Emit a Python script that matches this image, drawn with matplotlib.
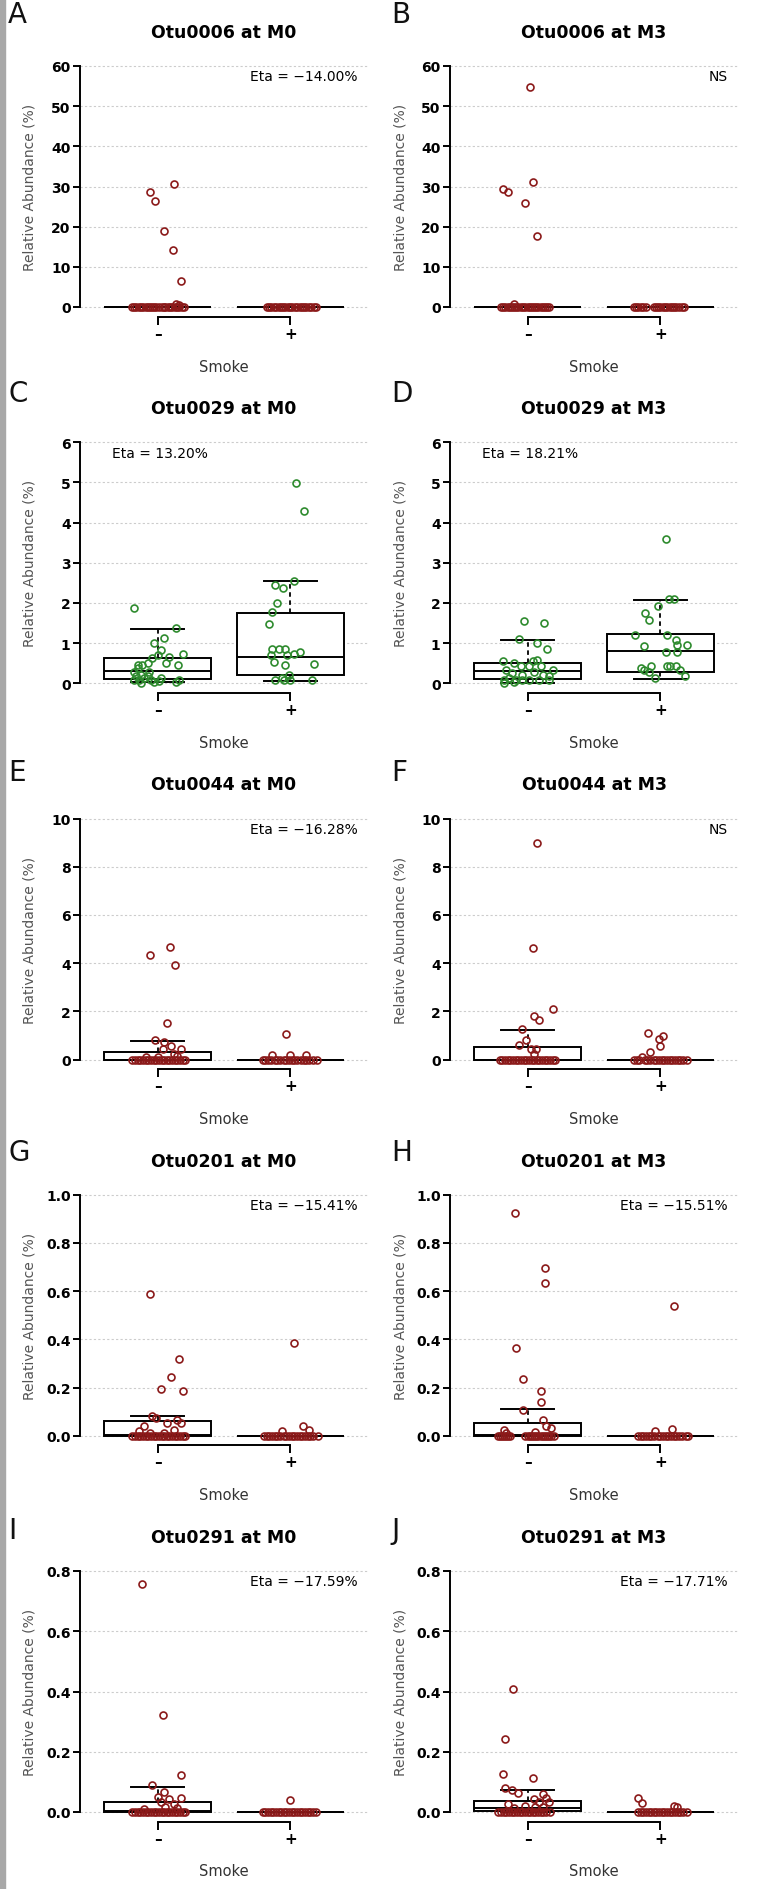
import matplotlib
matplotlib.use('Agg')
from matplotlib import pyplot as plt
from matplotlib.patches import Rectangle

W, H = 766, 1890
RED = '#8b1a1a'
GREEN = '#2e8b2e'
GRID = '#cccccc'

# ---- data: (jitter offset, value) points, dx of points at 0, box stats ----
# box stats are [whislo, q1, median, q3, whishi]

# A: Otu0006 at M0
A_neg = [(-0.06, 28.7), (-0.02, 26.5), (0.125, 30.6), (0.045, 18.8), (0.12, 14.2),
         (0.18, 6.4), (0.14, 0.8), (0.16, 0.5)]
A_neg_zero = [-0.19, -0.175, -0.16, -0.14, -0.125, -0.11, -0.09, -0.075, -0.06, -0.04, -0.025,
              -0.01, 0.01, 0.03, 0.045, 0.06, 0.08, 0.095, 0.11, 0.13, 0.15, 0.165, 0.185, 0.2]
A_pos = []
A_pos_zero = [-0.175, -0.16, -0.145, -0.125, -0.11, -0.09, -0.07, -0.055, -0.04, -0.02, 0.0,
              0.015, 0.035, 0.05, 0.07, 0.085, 0.1, 0.12, 0.14, 0.155, 0.175, 0.195]
A_box = [[0, 0, 0, 0, 0], [0, 0, 0, 0, 0]]

# B: Otu0006 at M3
B_neg = [(0.018, 54.8), (-0.183, 29.5), (-0.145, 28.7), (0.038, 31.2), (-0.02, 25.9),
         (0.068, 17.8), (-0.1, 0.8)]
B_neg_zero = [-0.2, -0.185, -0.17, -0.15, -0.135, -0.12, -0.1, -0.085, -0.07, -0.05, -0.035,
              -0.02, 0.0, 0.015, 0.03, 0.05, 0.065, 0.08, 0.1, 0.115, 0.13, 0.145, 0.16]
B_pos = []
B_pos_zero = [-0.2, -0.185, -0.17, -0.15, -0.13, -0.11, -0.05, -0.035, -0.02, 0.0, 0.02, 0.035,
              0.05, 0.07, 0.085, 0.1, 0.12, 0.14, 0.16, 0.175]
B_box = [[0, 0, 0, 0, 0], [0, 0, 0, 0, 0]]

# C: Otu0029 at M0
C_neg = [(-0.175, 1.88), (0.138, 1.37), (0.05, 1.12), (-0.025, 0.99), (0.195, 0.74),
         (0.025, 0.83), (0.0, 0.70), (0.088, 0.66), (0.063, 0.50), (0.155, 0.46),
         (-0.075, 0.50), (-0.113, 0.46), (-0.15, 0.37), (-0.038, 0.62), (-0.063, 0.29),
         (-0.125, 0.21), (-0.163, 0.17), (-0.1, 0.12), (-0.138, 0.08), (-0.05, 0.08),
         (0.013, 0.06), (0.138, 0.04), (0.163, 0.08), (-0.075, 0.17), (-0.175, 0.08),
         (-0.125, 0.0), (-0.025, 0.04), (-0.175, 0.29), (0.025, 0.12), (-0.15, 0.46)]
C_neg_zero = []
C_pos = [(0.038, 4.98), (0.1, 4.30), (0.025, 2.55), (-0.113, 2.44), (-0.055, 2.38),
         (-0.1, 1.99), (-0.138, 1.78), (-0.163, 1.47), (-0.138, 0.85), (-0.088, 0.85),
         (-0.038, 0.85), (0.075, 0.79), (0.025, 0.72), (-0.025, 0.70), (-0.15, 0.70),
         (-0.125, 0.54), (-0.038, 0.46), (0.175, 0.48), (-0.013, 0.21), (-0.113, 0.08),
         (-0.05, 0.08), (0.163, 0.08), (-0.063, 0.12), (0.0, 0.08)]
C_pos_zero = []
C_box = [[0.03, 0.10, 0.31, 0.62, 1.35], [0.06, 0.21, 0.66, 1.75, 2.54]]

# D: Otu0029 at M3
D_neg = [(-0.025, 1.56), (0.125, 1.49), (-0.063, 1.10), (0.068, 0.99), (0.143, 0.85),
         (-0.188, 0.55), (-0.1, 0.50), (0.038, 0.55), (0.068, 0.58), (-0.05, 0.44),
         (0.013, 0.44), (0.1, 0.44), (0.195, 0.33), (-0.163, 0.33), (-0.113, 0.25),
         (-0.038, 0.21), (0.05, 0.29), (0.113, 0.21), (-0.175, 0.08), (-0.138, 0.12),
         (-0.088, 0.08), (0.013, 0.08), (0.088, 0.08), (0.163, 0.08), (-0.175, 0.0),
         (0.163, 0.17), (-0.038, 0.08), (-0.1, 0.04)]
D_neg_zero = []
D_pos = [(0.045, 3.58), (0.1, 2.09), (0.063, 2.09), (-0.02, 1.93), (-0.113, 1.74),
         (-0.088, 1.57), (-0.188, 1.20), (0.05, 1.20), (0.113, 1.08), (-0.125, 0.93),
         (0.2, 0.95), (0.125, 0.95), (0.038, 0.79), (0.125, 0.79), (-0.075, 0.44),
         (0.075, 0.44), (0.12, 0.44), (0.15, 0.33), (-0.125, 0.33), (-0.088, 0.29),
         (0.188, 0.19), (-0.038, 0.12), (0.05, 0.44), (-0.15, 0.37)]
D_pos_zero = []
D_box = [[0.0, 0.10, 0.31, 0.51, 1.08], [0.10, 0.29, 0.81, 1.23, 2.07]]

# E: Otu0044 at M0
E_neg = [(-0.055, 4.32), (0.093, 4.68), (0.13, 3.91), (0.07, 1.50), (-0.02, 0.80),
         (0.05, 0.72), (0.1, 0.55), (0.038, 0.42), (0.175, 0.42), (0.125, 0.21),
         (-0.09, 0.1), (0.15, 0.15), (0.0, 0.1)]
E_neg_zero = [-0.19, -0.17, -0.15, -0.13, -0.11, -0.09, -0.07, -0.05, -0.03, -0.01, 0.01,
              0.03, 0.05, 0.07, 0.09, 0.11, 0.13, 0.15, 0.17, 0.19, 0.21]
E_pos = [(-0.03, 1.04), (-0.138, 0.17), (0.0, 0.17), (0.113, 0.17)]
E_pos_zero = [-0.21, -0.19, -0.17, -0.15, -0.12, -0.1, -0.08, -0.05, -0.03, -0.01, 0.01,
              0.03, 0.05, 0.08, 0.1, 0.12, 0.14, 0.17, 0.2]
E_box = [[0, 0, 0, 0.33, 0.78], [0, 0, 0, 0, 0]]

# F: Otu0044 at M3
F_neg = [(0.075, 9.0), (0.038, 4.61), (0.193, 2.10), (0.05, 1.82), (0.088, 1.62),
         (-0.038, 1.27), (-0.013, 0.79), (-0.063, 0.61), (0.025, 0.44), (0.063, 0.44),
         (0.05, 0.23)]
F_neg_zero = [-0.21, -0.19, -0.17, -0.15, -0.13, -0.11, -0.09, -0.07, -0.05, -0.03, -0.01,
              0.01, 0.03, 0.05, 0.07, 0.09, 0.11, 0.13, 0.15, 0.17, 0.19, 0.21]
F_pos = [(-0.093, 1.09), (0.02, 0.99), (-0.013, 0.86), (0.0, 0.58), (-0.08, 0.33),
         (-0.138, 0.10)]
F_pos_zero = [-0.2, -0.18, -0.16, -0.12, -0.1, -0.08, -0.05, -0.03, -0.01, 0.01, 0.03, 0.05,
              0.07, 0.09, 0.11, 0.13, 0.15, 0.17, 0.2]
F_box = [[0, 0, 0, 0.51, 1.23], [0, 0, 0, 0, 0]]

# G: Otu0201 at M0
G_neg = [(-0.058, 0.59), (0.163, 0.32), (0.105, 0.245), (0.025, 0.193), (0.188, 0.186),
         (-0.038, 0.083), (-0.013, 0.073), (0.075, 0.052), (0.15, 0.066), (0.175, 0.052),
         (-0.1, 0.039), (0.125, 0.025), (-0.138, 0.018), (0.05, 0.012), (-0.06, 0.01)]
G_neg_zero = [-0.19, -0.17, -0.15, -0.13, -0.11, -0.09, -0.07, -0.05, -0.03, -0.01, 0.01,
              0.03, 0.05, 0.07, 0.09, 0.11, 0.13, 0.15, 0.17, 0.19, 0.21]
G_pos = [(0.025, 0.383), (0.095, 0.039), (0.138, 0.025), (-0.063, 0.018)]
G_pos_zero = [-0.2, -0.18, -0.16, -0.14, -0.12, -0.1, -0.08, -0.05, -0.03, -0.01, 0.01,
              0.03, 0.05, 0.07, 0.09, 0.11, 0.13, 0.15, 0.17, 0.21]
G_box = [[0, 0, 0.005, 0.06, 0.084], [0, 0, 0, 0, 0]]

# H: Otu0201 at M3
H_neg = [(-0.095, 0.924), (0.13, 0.694), (0.133, 0.632), (-0.088, 0.363), (-0.033, 0.234),
         (0.1, 0.186), (0.1, 0.142), (-0.033, 0.108), (0.113, 0.066), (0.138, 0.039),
         (0.175, 0.032), (-0.175, 0.025), (0.06, 0.015), (-0.16, 0.012)]
H_neg_zero = [-0.225, -0.21, -0.195, -0.18, -0.165, -0.15, -0.135, -0.02, 0.0, 0.02, 0.035,
              0.05, 0.065, 0.08, 0.1, 0.115, 0.13, 0.145, 0.16, 0.18, 0.2]
H_pos = [(0.1, 0.538), (0.088, 0.028), (-0.038, 0.02)]
H_pos_zero = [-0.17, -0.15, -0.13, -0.11, -0.09, -0.07, -0.05, -0.02, 0.0, 0.02, 0.04, 0.06,
              0.08, 0.1, 0.12, 0.14, 0.16, 0.19, 0.21]
H_box = [[0, 0, 0.005, 0.052, 0.113], [0, 0, 0, 0, 0]]

# I: Otu0291 at M0
I_neg = [(-0.113, 0.756), (0.043, 0.321), (0.18, 0.122), (-0.038, 0.089), (0.045, 0.066),
         (0.0, 0.05), (0.088, 0.044), (0.175, 0.046), (0.025, 0.033), (0.125, 0.028),
         (0.06, 0.015), (-0.1, 0.01), (0.15, 0.012)]
I_neg_zero = [-0.19, -0.17, -0.15, -0.13, -0.11, -0.09, -0.07, -0.05, -0.03, -0.01, 0.01,
              0.03, 0.05, 0.07, 0.09, 0.11, 0.13, 0.15, 0.17, 0.19, 0.21]
I_pos = [(-0.005, 0.039)]
I_pos_zero = [-0.21, -0.19, -0.17, -0.15, -0.13, -0.11, -0.09, -0.07, -0.05, -0.03, -0.01,
              0.01, 0.03, 0.05, 0.07, 0.09, 0.11, 0.13, 0.15, 0.17, 0.19]
I_box = [[0, 0, 0.003, 0.033, 0.083], [0, 0, 0, 0, 0]]

# J: Otu0291 at M3
J_neg = [(-0.108, 0.409), (-0.168, 0.243), (-0.188, 0.127), (0.038, 0.114), (-0.168, 0.080),
         (-0.118, 0.074), (-0.075, 0.063), (0.113, 0.061), (0.05, 0.044), (0.138, 0.046),
         (0.088, 0.033), (0.163, 0.033), (-0.15, 0.025), (-0.02, 0.02), (0.06, 0.015),
         (0.12, 0.018), (-0.1, 0.012)]
J_neg_zero = [-0.22, -0.2, -0.18, -0.16, -0.14, -0.12, -0.1, -0.08, -0.06, -0.04, -0.02,
              0.0, 0.02, 0.04, 0.06, 0.08, 0.1, 0.12, 0.14, 0.17]
J_pos = [(-0.17, 0.046), (-0.138, 0.031), (0.1, 0.019), (0.125, 0.017)]
J_pos_zero = [-0.17, -0.15, -0.13, -0.11, -0.09, -0.07, -0.05, -0.03, -0.01, 0.01, 0.03,
              0.05, 0.07, 0.09, 0.11, 0.13, 0.15, 0.17, 0.2]
J_box = [[0, 0.002, 0.014, 0.035, 0.074], [0, 0, 0, 0, 0]]

TITLES = ['Otu0006 at M0', 'Otu0006 at M3', 'Otu0029 at M0', 'Otu0029 at M3',
          'Otu0044 at M0', 'Otu0044 at M3', 'Otu0201 at M0', 'Otu0201 at M3',
          'Otu0291 at M0', 'Otu0291 at M3']
LETTERS = ['A', 'B', 'C', 'D', 'E', 'F', 'G', 'H', 'I', 'J']
ETA = ['Eta = \u221214.00%', 'NS', 'Eta = 13.20%', 'Eta = 18.21%',
       'Eta = \u221216.28%', 'NS', 'Eta = \u221215.41%', 'Eta = \u221215.51%',
       'Eta = \u221217.59%', 'Eta = \u221217.71%']
ETA_LEFT = [False, False, True, True, False, False, False, False, False, False]
YMAX = [60, 60, 6, 6, 10, 10, 1.0, 1.0, 0.8, 0.8]
YSTEP = [10, 10, 1, 1, 2, 2, 0.2, 0.2, 0.2, 0.2]
YFMT = ['%d', '%d', '%d', '%d', '%d', '%d', '%.1f', '%.1f', '%.1f', '%.1f']
COLORS = [RED, RED, GREEN, GREEN, RED, RED, RED, RED, RED, RED]
NEG = [A_neg, B_neg, C_neg, D_neg, E_neg, F_neg, G_neg, H_neg, I_neg, J_neg]
NEG_ZERO = [A_neg_zero, B_neg_zero, C_neg_zero, D_neg_zero, E_neg_zero,
            F_neg_zero, G_neg_zero, H_neg_zero, I_neg_zero, J_neg_zero]
POS = [A_pos, B_pos, C_pos, D_pos, E_pos, F_pos, G_pos, H_pos, I_pos, J_pos]
POS_ZERO = [A_pos_zero, B_pos_zero, C_pos_zero, D_pos_zero, E_pos_zero,
            F_pos_zero, G_pos_zero, H_pos_zero, I_pos_zero, J_pos_zero]
BOXES = [A_box, B_box, C_box, D_box, E_box, F_box, G_box, H_box, I_box, J_box]

# layout in pixels
TOP_TICK = [67, 443.25, 819.5, 1195.75, 1572]
AX_SPAN = 241.0          # pixels from 0 to the top tick
AX_LEFT = 80.4
COL_STEP = 370
AX_W = 287.2
LETTER_Y = [15, 394, 773, 1153, 1531]

fig = plt.figure(figsize=(W / 100, H / 100), dpi=100)
fig.patches.append(Rectangle((0, 0), 5 / W, 1, transform=fig.transFigure,
                             color='#a8a8a8', zorder=0))


def fx(x):
    return x / W


def fy(y):
    return 1 - y / H


for i in range(10):
    row, col = divmod(i, 2)
    ymax = YMAX[i]
    top = TOP_TICK[row]
    zero = top + AX_SPAN
    ax_top = top - 0.04 * AX_SPAN
    ax_h = 1.08 * AX_SPAN
    left = AX_LEFT + COL_STEP * col
    ax = fig.add_axes([fx(left), fy(ax_top + ax_h), AX_W / W, ax_h / H])
    ax.set_xlim(0.42, 2.58)
    ax.set_ylim(-0.04 * ymax, 1.04 * ymax)

    nt = int(round(ymax / YSTEP[i]))
    ticks = [k * YSTEP[i] for k in range(nt + 1)]
    for t in ticks:
        ax.axhline(t, color=GRID, lw=0.8, ls=(0, (2, 2)), zorder=0)

    stats = []
    for b in BOXES[i]:
        stats.append(dict(whislo=b[0], q1=b[1], med=b[2], q3=b[3], whishi=b[4], fliers=[]))
    ax.bxp(stats, positions=[1, 2], widths=0.8, capwidths=0.4, showfliers=False,
           patch_artist=True,
           boxprops=dict(facecolor='white', edgecolor='black', linewidth=1.4),
           whiskerprops=dict(color='black', linewidth=1.3, linestyle=(0, (2.5, 2))),
           capprops=dict(color='black', linewidth=1.4),
           medianprops=dict(color='black', linewidth=1.4))

    for pos, pts, zeros in ((1, NEG[i], NEG_ZERO[i]), (2, POS[i], POS_ZERO[i])):
        xs = [pos + d for d, v in pts] + [pos + d for d in zeros]
        ys = [v for d, v in pts] + [0.0 for d in zeros]
        ax.plot(xs, ys, 'o', mfc='none', mec=COLORS[i], ms=5, mew=1.2, zorder=5,
                clip_on=False)

    for s in ('top', 'right'):
        ax.spines[s].set_visible(False)
    ax.spines['left'].set_bounds(0, ymax)
    ax.spines['bottom'].set_bounds(1, 2)
    ax.spines['left'].set_linewidth(1.4)
    ax.spines['bottom'].set_linewidth(1.4)
    ax.set_yticks(ticks)
    ax.set_yticklabels([YFMT[i] % t for t in ticks], fontweight='bold', fontsize=10)
    ax.set_xticks([1, 2])
    ax.set_xticklabels(['\u2013', '+'], fontweight='bold', fontsize=11)
    ax.tick_params(axis='y', length=5, width=1.4, pad=2)
    ax.tick_params(axis='x', length=6, width=1.4, pad=0.5)
    ax.set_facecolor('none')

    if ETA_LEFT[i]:
        ax.text(31.6 / AX_W, 1 - 20 / ax_h, ETA[i], transform=ax.transAxes,
                ha='left', va='center', fontsize=10)
    else:
        ax.text(1 - 10 / AX_W, 1 - 20 / ax_h, ETA[i], transform=ax.transAxes,
                ha='right', va='center', fontsize=10)

    cx = left + AX_W / 2
    fig.text(fx(cx), fy(top - 34), TITLES[i], ha='center', va='center',
             fontsize=12.5, fontweight='bold')
    fig.text(fx(cx), fy(zero + 59), 'Smoke', ha='center', va='center',
             fontsize=10.5, color='#333333')
    fig.text(fx(left + 1.6 - 52), fy((top + zero) / 2), 'Relative Abundance (%)',
             rotation=90, ha='center', va='center', fontsize=10, color='#555555')
    fig.text(fx(8 + 383 * col), fy(LETTER_Y[row]), LETTERS[i], ha='left', va='center',
             fontsize=20, color='#111111')

fig.savefig('out.png', dpi=100)
